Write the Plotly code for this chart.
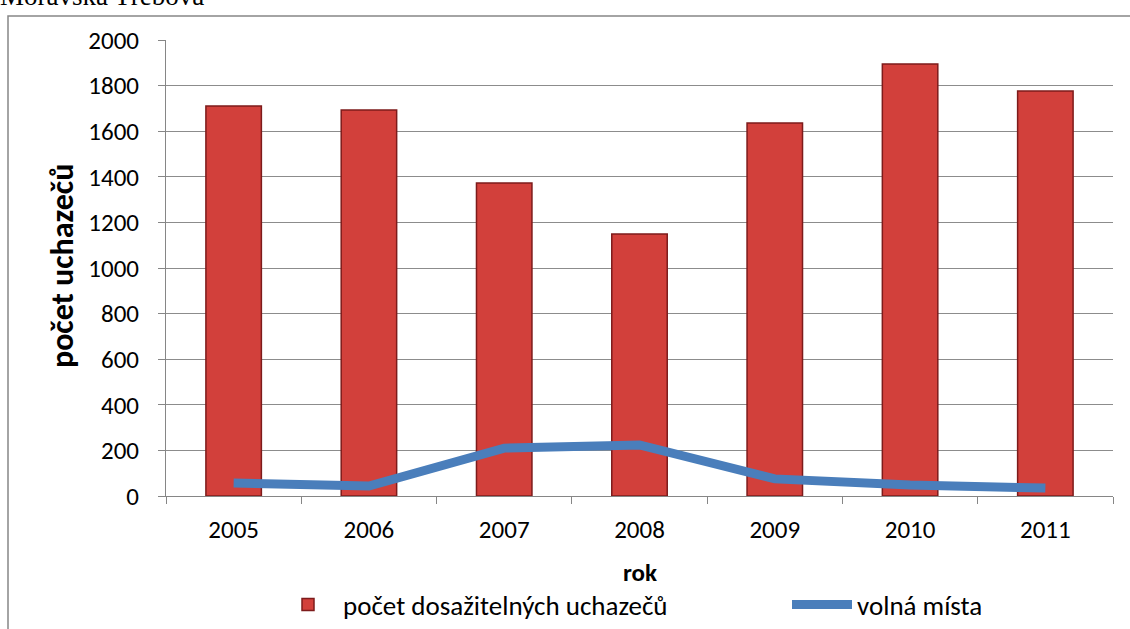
import plotly.graph_objects as go

years = ["2005", "2006", "2007", "2008", "2009", "2010", "2011"]
uchazeci = [1710, 1693, 1373, 1149, 1636, 1895, 1776]
volna_mista = [57, 44, 210, 224, 75, 48, 35]
y_ticks = [0, 200, 400, 600, 800, 1000, 1200, 1400, 1600, 1800, 2000]

W, H = 1130, 629
L, R, T, B = 166, 17, 40, 133
pw, ph = W - L - R, H - T - B

def px_x(px):
    return (px - L) / pw

def px_y(py):
    return (H - B - py) / ph

FONT = "Carlito, Calibri, Liberation Sans, Arial, sans-serif"

fig = go.Figure()
fig.add_trace(go.Bar(
    x=years, y=uchazeci, name="počet dosažitelných uchazečů",
    width=0.41, legend="legend",
    marker=dict(color="#d2403b", line=dict(color="#7d1b1b", width=1.5)),
))
fig.add_trace(go.Scatter(
    x=years, y=volna_mista, name="volná místa", mode="lines", legend="legend2",
    line=dict(color="#4a7ebb", width=9),
))

leg_common = dict(orientation="h", yanchor="middle", font=dict(size=27, family=FONT),
                  bgcolor="rgba(0,0,0,0)", itemwidth=60)

fig.update_layout(
    width=W, height=H,
    margin=dict(l=L, r=R, t=T, b=B, autoexpand=False),
    paper_bgcolor="white", plot_bgcolor="white",
    font=dict(family=FONT, size=25, color="black"),
    showlegend=True,
    legend=dict(x=px_x(273), xanchor="left", y=px_y(605), **leg_common),
    legend2=dict(x=px_x(787), xanchor="left", y=px_y(605), **leg_common),
    xaxis=dict(type="category", showline=True, linecolor="#868686", linewidth=1,
               ticks="outside", ticklen=7, tickcolor="#868686", tickson="boundaries",
               showgrid=False, ticklabelstandoff=11, tickfont=dict(size=25), automargin=False),
    yaxis=dict(range=[0, 2000], tickvals=y_ticks, showline=True, linecolor="#868686",
               linewidth=1, ticks="outside", ticklen=7, tickcolor="#868686",
               showgrid=True, gridcolor="#8c8c8c", gridwidth=1, zeroline=False,
               ticklabelstandoff=14, tickfont=dict(size=25), automargin=False),
    annotations=[
        dict(text="<b>rok</b>", x=0.5, y=px_y(572), xref="paper", yref="paper",
             showarrow=False, font=dict(size=25), xanchor="center", yanchor="middle"),
        dict(text="<b>počet uchazečů</b>", x=px_x(62), y=px_y(266), xref="paper", yref="paper",
             showarrow=False, textangle=-90, font=dict(size=32), xanchor="center", yanchor="middle"),
        dict(text="Moravská Třebová", x=px_x(-2), y=px_y(13), xref="paper", yref="paper",
             showarrow=False, font=dict(family="Liberation Serif, Times New Roman, serif", size=27),
             xanchor="left", yanchor="bottom"),
    ],
    shapes=[
        dict(type="rect", xref="paper", yref="paper", x0=px_x(8), x1=px_x(1140),
             y0=px_y(650), y1=px_y(16), line=dict(color="#868686", width=1.5), layer="below"),
    ],
)

fig.write_html("out.html", config={"displayModeBar": False},
               post_script="document.body.style.margin='0';document.body.style.overflow='hidden';")
